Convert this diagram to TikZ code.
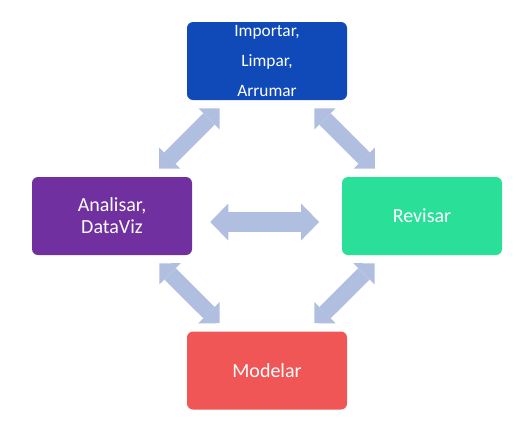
\documentclass[tikz,border=0pt]{standalone}
\usepackage{fontspec}
\setmainfont{Carlito}
\usetikzlibrary{arrows.meta,positioning}
\definecolor{boxblue}{HTML}{1049B8}
\definecolor{boxpurple}{HTML}{7030A0}
\definecolor{boxgreen}{HTML}{2ADF98}
\definecolor{boxred}{HTML}{F05656}
\definecolor{linkblue}{HTML}{B0BEE0}

\begin{document}
\begin{tikzpicture}[x=0.75pt,y=-0.75pt,
  box/.style={rounded corners=4.5pt,minimum width=120pt,minimum height=58.5pt,
    inner sep=0pt,align=center,text=white,font=\fontsize{15}{16.5}\selectfont},
  link/.style={draw=linkblue,line width=12pt,shorten <=8.5pt,shorten >=8.5pt,
    {Triangle[width=22.5pt,length=11.25pt,line width=0pt]}-{Triangle[width=22.5pt,length=11.25pt,line width=0pt]}},
  widelink/.style={link,line width=15pt,
    {Triangle[width=27.75pt,length=13.5pt,line width=0pt]}-{Triangle[width=27.75pt,length=13.5pt,line width=0pt]}}]
  \useasboundingbox (0,0) rectangle (529,426);
  \node[box,fill=boxblue,font=\fontsize{13}{22.5}\selectfont] (imp) at (267,61) {Importar,\\ Limpar,\\ Arrumar};
  \node[box,fill=boxpurple] (ana) at (112,216) {Analisar,\\ DataViz};
  \node[box,fill=boxgreen] (rev) at (422,216) {Revisar};
  \node[box,fill=boxred] (mod) at (267,370.5) {Modelar};
  \draw[link] (imp) -- (ana);
  \draw[link] (imp) -- (rev);
  \draw[link] (ana) -- (mod);
  \draw[link] (rev) -- (mod);
  \draw[widelink,shorten <=13.5pt,shorten >=17pt] ([yshift=-4.5pt]ana.east) -- ([yshift=-4.5pt]rev.west);
\end{tikzpicture}
\end{document}
